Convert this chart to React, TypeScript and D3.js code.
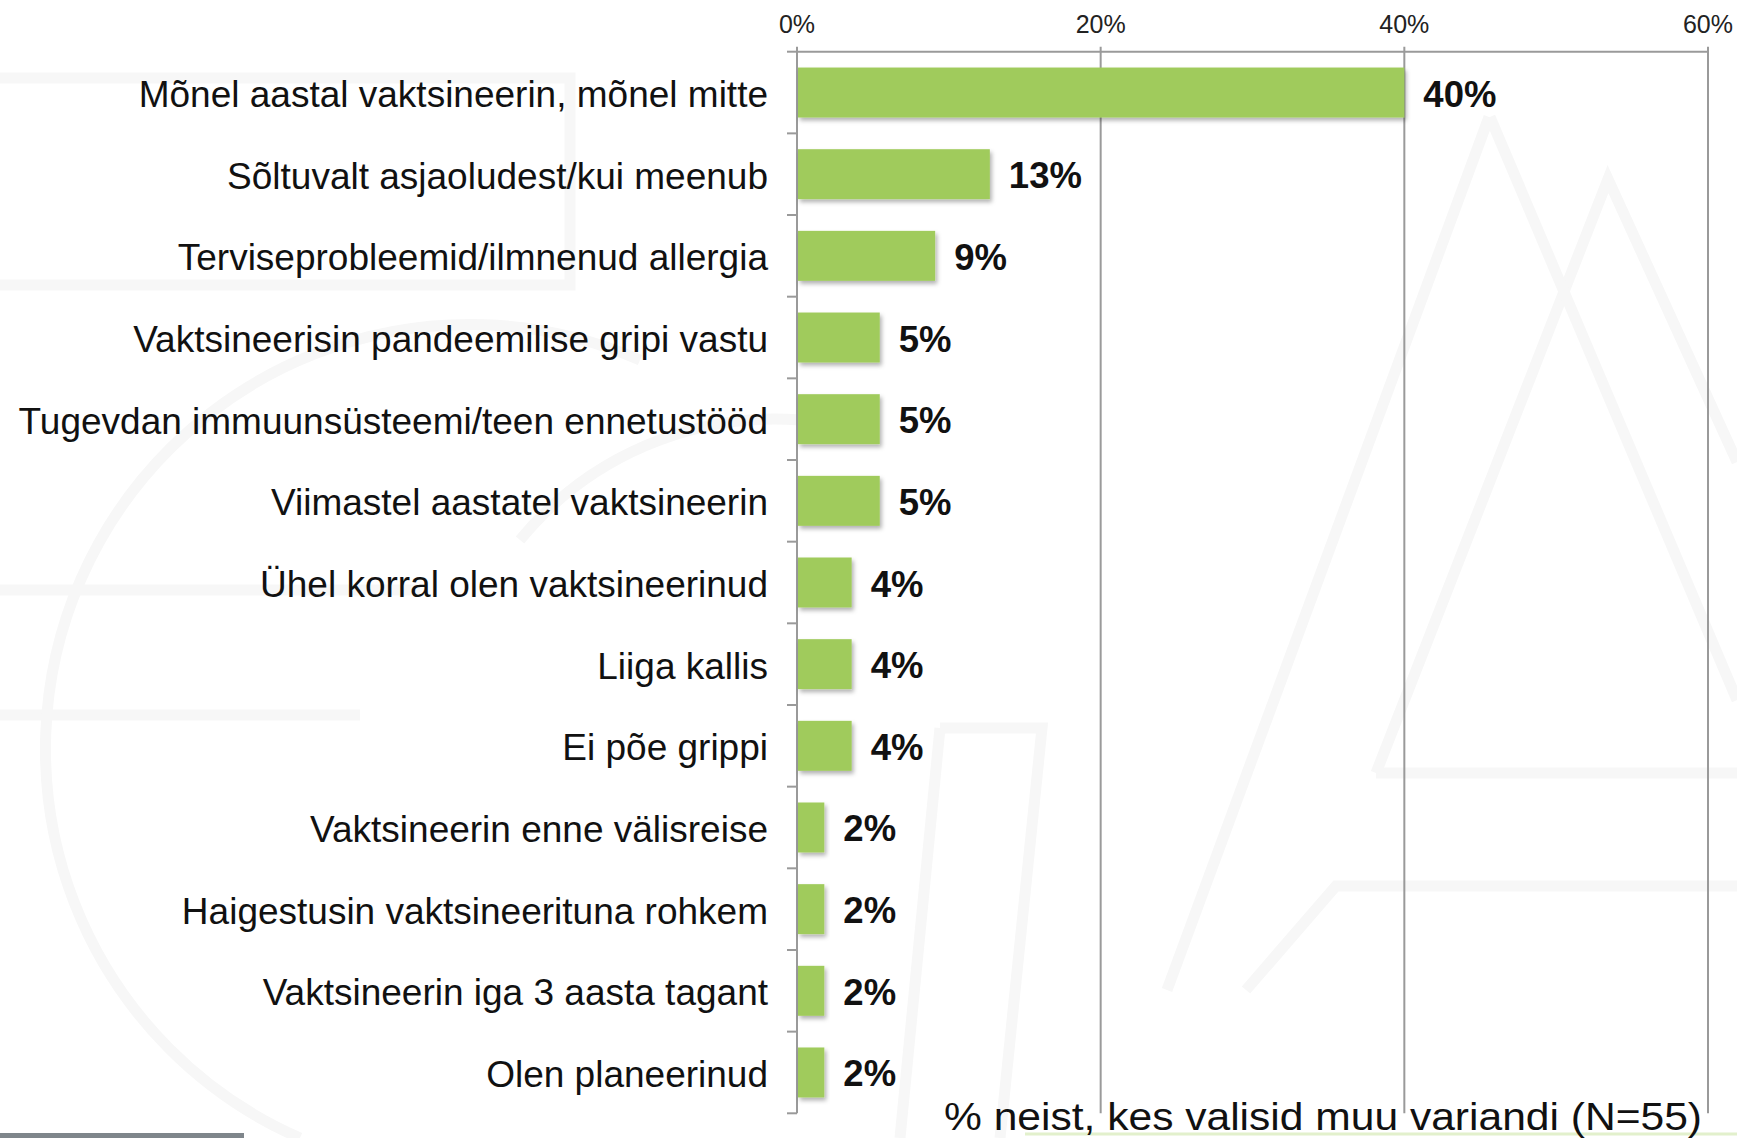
import React from "react";
import * as d3 from "d3";

const categories = [
  "Mõnel aastal vaktsineerin, mõnel mitte",
  "Sõltuvalt asjaoludest/kui meenub",
  "Terviseprobleemid/ilmnenud allergia",
  "Vaktsineerisin pandeemilise gripi vastu",
  "Tugevdan immuunsüsteemi/teen ennetustööd",
  "Viimastel aastatel vaktsineerin",
  "Ühel korral olen vaktsineerinud",
  "Liiga kallis",
  "Ei põe grippi",
  "Vaktsineerin enne välisreise",
  "Haigestusin vaktsineerituna rohkem",
  "Vaktsineerin iga 3 aasta tagant",
  "Olen planeerinud",
];
const values = [40.0, 12.7, 9.1, 5.45, 5.45, 5.45, 3.6, 3.6, 3.6, 1.8, 1.8, 1.8, 1.8];
const valueLabels = ["40%", "13%", "9%", "5%", "5%", "5%", "4%", "4%", "4%", "2%", "2%", "2%", "2%"];
const xTicks = [0, 20, 40, 60];
const tickLabels = ["0%", "20%", "40%", "60%"];
const title = "% neist, kes valisid muu variandi (N=55)";

const W = 1737;
const H = 1138;
const FONT = "'Liberation Sans', Arial, Helvetica, sans-serif";

export default function App() {
  const x = d3.scaleLinear().domain([0, 60]).range([797, 1708]);
  const y = d3
    .scaleBand<string>()
    .domain(categories)
    .range([51.7, 1113.3])
    .paddingInner(0.388)
    .paddingOuter(0.194);
  const step = y.step();
  const top = 51.7;
  const bottom = 1113.3;
  const boundaries = d3.range(categories.length + 1).map((i) => top + i * step);
  const wm = "#f7f7f7";

  return (
    <svg
      width={W}
      height={H}
      viewBox={`0 0 ${W} ${H}`}
      style={{ position: "absolute", left: 0, top: 0, background: "#fff" }}
      fontFamily={FONT}
    >
      <defs>
        <filter id="shadow" x="-10%" y="-20%" width="130%" height="160%">
          <feDropShadow dx="2" dy="3" stdDeviation="2" floodColor="#000" floodOpacity="0.3" />
        </filter>
      </defs>
      <rect x={0} y={0} width={W} height={H} fill="#fff" />

      {/* faint watermark */}
      <g fill="none" stroke={wm} strokeWidth={11} strokeLinejoin="miter">
        <polyline points="0,78 570,78 570,285 0,285" />
        <polyline points="0,590 420,590" />
        <polyline points="0,715 360,715" />
        <path d="M 300 1138 A 360 360 0 0 1 640 360" />
        <path d="M 520 540 A 330 330 0 0 1 800 420" />
        <polyline points="1376,773 1608,179 1737,462" />
        <polyline points="1376,773 1737,773" />
        <polyline points="1167,990 1489,117" />
        <polyline points="1246,990 1336,886 1737,886" />
        <polyline points="940,728 1042,728 1000,1138" />
        <polyline points="940,728 900,1138" />
        <polyline points="1490,117 1737,700" />
      </g>

      {/* gridlines */}
      {xTicks.map((t) => (
        <line key={"g" + t} x1={x(t)} x2={x(t)} y1={top - 5} y2={bottom} stroke="#9a9a9a" strokeWidth={2} />
      ))}
      {/* top axis */}
      <line x1={x(0)} x2={x(60)} y1={top} y2={top} stroke="#9a9a9a" strokeWidth={2} />
      {/* left axis ticks */}
      {boundaries.map((b, i) => (
        <line key={"t" + i} x1={787} x2={x(0)} y1={b} y2={b} stroke="#9a9a9a" strokeWidth={2} />
      ))}

      {/* tick labels */}
      {xTicks.map((t, i) => (
        <text key={"tl" + t} x={x(t)} y={33} textAnchor="middle" fontSize={25} fill="#222">
          {tickLabels[i]}
        </text>
      ))}

      {/* bars */}
      {categories.map((c, i) => (
        <rect
          key={"b" + i}
          x={x(0) + 1}
          y={y(c)!}
          width={x(values[i]) - x(0) - 1}
          height={y.bandwidth()}
          fill="#a0cb5b"
          filter="url(#shadow)"
        />
      ))}

      {/* category labels */}
      {categories.map((c, i) => (
        <text
          key={"c" + i}
          x={768}
          y={y(c)! + y.bandwidth() / 2 + 14.5}
          textAnchor="end"
          fontSize={37}
          fill="#111"
        >
          {c}
        </text>
      ))}

      {/* value labels */}
      {categories.map((c, i) => (
        <text
          key={"v" + i}
          x={x(values[i]) + 19}
          y={y(c)! + y.bandwidth() / 2 + 14}
          fontSize={36.5}
          fontWeight="bold"
          fill="#111"
        >
          {valueLabels[i]}
        </text>
      ))}

      {/* bottom decorations */}
      <line x1={1025} x2={W} y1={1134} y2={1134} stroke="#e2f0cc" strokeWidth={3} />
      <rect x={0} y={1133} width={244} height={5} fill="#7f868b" />

      {/* title */}
      <text x={944} y={1130} fontSize={38} fill="#111" textLength={758} lengthAdjust="spacingAndGlyphs">
        {title}
      </text>
    </svg>
  );
}
